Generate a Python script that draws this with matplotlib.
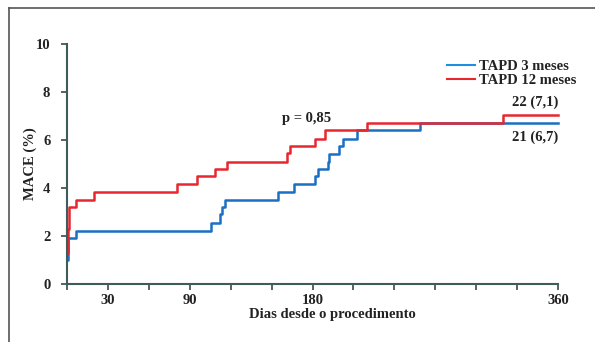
import matplotlib.pyplot as plt
from matplotlib.lines import Line2D

# Kaplan-Meier style cumulative MACE (%) vs days
days_3m = [0, 0.8, 6.6, 105.6, 112, 113.5, 116, 154.7, 166.5, 182, 184, 191, 192, 199.4, 202, 212.6, 258.8, 360]
mace_3m = [1.0, 1.9, 2.2, 2.55, 2.9, 3.2, 3.5, 3.85, 4.15, 4.5, 4.8, 5.1, 5.4, 5.75, 6.05, 6.4, 6.7, 6.7]

days_12m = [0, 0.5, 1.2, 6.6, 19.8, 80.6, 95.3, 108.5, 117.3, 161, 163.5, 182, 189, 220, 319.6, 360]
mace_12m = [1.3, 2.3, 3.2, 3.5, 3.85, 4.15, 4.5, 4.8, 5.1, 5.45, 5.75, 6.05, 6.4, 6.7, 7.05, 7.05]

x_ticks = list(range(0, 361, 30))
x_labels = {30: '30', 90: '90', 180: '180', 360: '360'}
y_ticks = [0, 2, 4, 6, 8, 10]

blue = '#1b6fc4'
red = '#e8262e'
axis_col = '#3f5b5b'
txt = '#222222'

plt.rcParams['font.family'] = ['Liberation Serif', 'DejaVu Serif']

fig = plt.figure(figsize=(5.95, 3.42), dpi=100)

# outer frame lines (top and left only)
fig.add_artist(Line2D([9 / 595, 1.0], [1 - 8 / 342, 1 - 8 / 342], color='#555555', lw=1.2))
fig.add_artist(Line2D([9 / 595, 9 / 595], [0, 1 - 8 / 342], color='#555555', lw=1.2))

ax = fig.add_axes([67 / 595, (342 - 284) / 342, (558 - 67) / 595, (284 - 44) / 342])

ax.step(days_3m, mace_3m, where='post', color=blue, lw=1.8)
ax.step(days_12m, mace_12m, where='post', color=red, lw=1.8)

ax.set_xlim(0, 360)
ax.set_ylim(0, 10)
ax.set_xticks(x_ticks)
ax.set_xticklabels([x_labels.get(t, '') for t in x_ticks])
ax.set_yticks(y_ticks)

for s in ['top', 'right']:
    ax.spines[s].set_visible(False)
for s in ['left', 'bottom']:
    ax.spines[s].set_color(axis_col)
    ax.spines[s].set_linewidth(1.5)
ax.tick_params(colors=axis_col, width=1.3, length=4, labelcolor=txt, labelsize=10.5)
for lab in ax.get_xticklabels() + ax.get_yticklabels():
    lab.set_fontweight('bold')
ax.tick_params(axis='y', pad=8)
ax.tick_params(axis='x', pad=3)
for ln in ax.lines:
    ln.set_clip_on(False)

ax.set_xlabel('Dias desde o procedimento', fontsize=10.5, fontweight='bold', color=txt, labelpad=2)
ax.xaxis.set_label_coords(0.54, -0.1)
ax.set_ylabel('MACE (%)', fontsize=10.5, fontweight='bold', color=txt)
ax.yaxis.set_label_coords(-0.062, 0.5)

ax.text(158, 6.9, 'p = 0,85', fontsize=10.5, fontweight='bold', color=txt, ha='left', va='center')
ax.text(360, 7.3, '22 (7,1)', fontsize=10.5, fontweight='bold', color=txt, ha='right', va='bottom')
ax.text(360, 6.4, '21 (6,7)', fontsize=10.5, fontweight='bold', color=txt, ha='right', va='top')

leg = ax.legend([Line2D([], [], color='#1e8fe0', lw=1.5), Line2D([], [], color=red, lw=1.5)],
                ['TAPD 3 meses', 'TAPD 12 meses'], loc='upper right', bbox_to_anchor=(1.065, 0.99),
                frameon=False, handlelength=1.9, handletextpad=0.3, labelspacing=0.05,
                prop={'weight': 'bold', 'size': 10.5})
for t in leg.get_texts():
    t.set_color(txt)

fig.savefig('out.png', dpi=100)
